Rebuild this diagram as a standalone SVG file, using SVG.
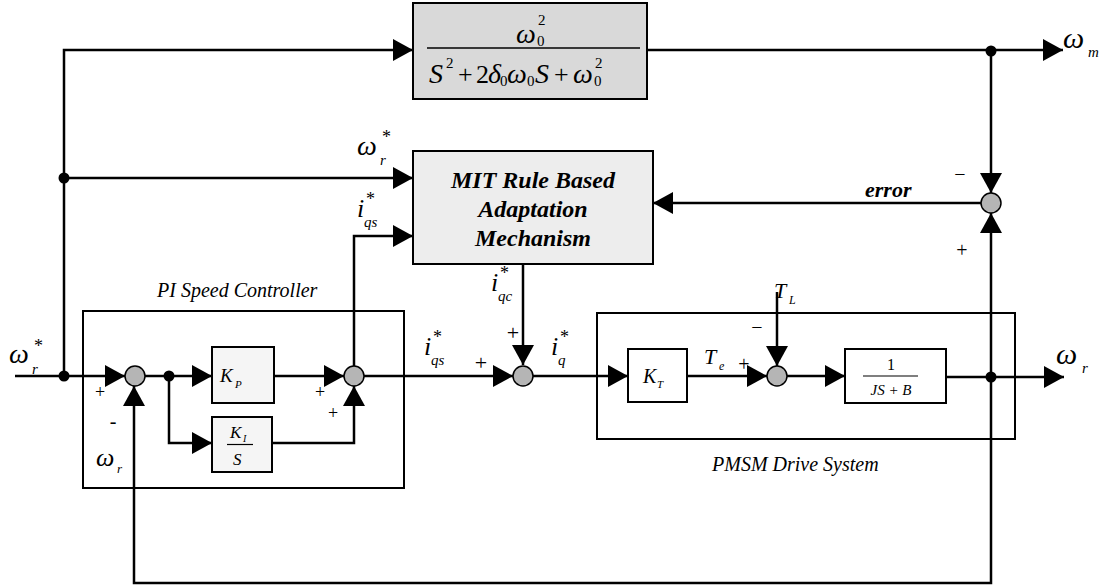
<svg xmlns="http://www.w3.org/2000/svg" width="1106" height="586" viewBox="0 0 1106 586" font-family="Liberation Serif, DejaVu Serif, Times New Roman, serif">
<defs>
<marker id="arr" markerUnits="userSpaceOnUse" markerWidth="22" markerHeight="24" refX="20" refY="11" orient="auto">
<path d="M0,0 L20,11 L0,22 z" fill="#000"/>
</marker>
<style>
.ln{fill:none;stroke:#000;stroke-width:2.5}
.ar{marker-end:url(#arr)}
.box{stroke:#000;stroke-width:2}
.frame{fill:none;stroke:#000;stroke-width:2}
.sum{fill:#b5b5b5;stroke:#000;stroke-width:1.5}
.dot{fill:#000}
.m{font-style:italic;fill:#000}
.r{fill:#000}
.b{font-style:italic;font-weight:bold;fill:#000}
</style>
</defs>
<rect width="1106" height="586" fill="#fff"/>

<g id="connectors">
<path class="ln ar" d="M15,376 H125"/>
<path class="ln ar" d="M64,376 V50 H413"/>
<path class="ln ar" d="M64,178 H413"/>
<path class="ln ar" d="M145,376 H212"/>
<path class="ln ar" d="M274,376 H344"/>
<path class="ln ar" d="M169,376 V443 H212"/>
<path class="ln ar" d="M272,443 H354 V386"/>
<path class="ln ar" d="M364,376 H513"/>
<path class="ln ar" d="M354,366 V236 H413"/>
<path class="ln ar" d="M523,264 V365"/>
<path class="ln ar" d="M533,376 H628"/>
<path class="ln ar" d="M687,376 H767"/>
<path class="ln ar" d="M777,292 V366"/>
<path class="ln ar" d="M787,376 H845"/>
<path class="ln ar" d="M946,377 H1064"/>
<path class="ln ar" d="M647,50 H1063"/>
<path class="ln ar" d="M991,50 V193"/>
<path class="ln ar" d="M981,203 H653"/>
<path class="ln ar" d="M991,377 V213"/>
<path class="ln ar" d="M991,377 V583 H134 V386"/>
</g>

<g id="pi-controller">
<rect class="frame" x="83" y="311" width="321" height="177"/>
<text class="m" x="157" y="297" font-size="20">PI Speed Controller</text>
</g>

<g id="pmsm-drive">
<rect class="frame" x="597" y="313" width="418" height="126"/>
<text class="m" x="712" y="471" font-size="20">PMSM Drive System</text>
</g>

<g id="reference-model">
<rect class="box" x="413" y="3" width="234" height="96" fill="#d9d9d9"/>
<text class="m" x="516" y="43" font-size="28">ω</text>
<text class="r" x="538" y="25" font-size="15">2</text>
<text class="r" x="537" y="46" font-size="15">0</text>
<line x1="427" y1="48" x2="640" y2="48" stroke="#000" stroke-width="1.5"/>
<text class="m" x="429" y="83" font-size="28">S</text>
<text class="r" x="446" y="68" font-size="15">2</text>
<text class="r" x="458" y="83" font-size="26">+</text>
<text class="r" x="476" y="83" font-size="26">2</text>
<text class="m" x="488" y="83" font-size="28">δ</text>
<text class="r" x="500" y="86" font-size="15">0</text>
<text class="m" x="507" y="83" font-size="28">ω</text>
<text class="r" x="527" y="86" font-size="15">0</text>
<text class="m" x="535" y="83" font-size="28">S</text>
<text class="r" x="554" y="83" font-size="26">+</text>
<text class="m" x="573" y="83" font-size="28">ω</text>
<text class="r" x="595" y="68" font-size="15">2</text>
<text class="r" x="594" y="86" font-size="15">0</text>
</g>

<g id="mit-adaptation">
<rect class="box" x="413" y="151" width="240" height="113" fill="#ededed"/>
<text class="b" x="533" y="188" font-size="24" text-anchor="middle">MIT Rule Based</text>
<text class="b" x="533" y="217" font-size="24" text-anchor="middle">Adaptation</text>
<text class="b" x="533" y="246" font-size="24" text-anchor="middle">Mechanism</text>
</g>

<g id="kp">
<rect class="box" x="212" y="347" width="62" height="56" fill="#f5f5f5"/>
<text class="m" x="220" y="382" font-size="19">K</text>
<text class="m" x="235" y="388" font-size="11">P</text>
</g>

<g id="ki">
<rect class="box" x="212" y="417" width="60" height="55" fill="#f5f5f5"/>
<text class="m" x="230" y="438" font-size="17">K</text>
<text class="m" x="243" y="442" font-size="10">I</text>
<line x1="227" y1="444.5" x2="253" y2="444.5" stroke="#000" stroke-width="1.2"/>
<text class="m" x="233" y="465" font-size="17">S</text>
</g>

<g id="kt">
<rect class="box" x="628" y="349" width="59" height="53" fill="#fff"/>
<text class="m" x="643" y="383" font-size="20">K</text>
<text class="m" x="657" y="388" font-size="11">T</text>
</g>

<g id="mech">
<rect class="box" x="845" y="349" width="101" height="54" fill="#fff"/>
<text class="r" x="891" y="370" font-size="16" text-anchor="middle">1</text>
<line x1="863" y1="376" x2="918" y2="376" stroke="#000" stroke-width="1.2"/>
<text class="m" x="891" y="395" font-size="15" text-anchor="middle">JS + B</text>
</g>

<g id="sum1"><circle class="sum" cx="135" cy="376" r="10"/></g>
<g id="sum2"><circle class="sum" cx="354" cy="376" r="10"/></g>
<g id="sum3"><circle class="sum" cx="523" cy="376" r="10"/></g>
<g id="sum4"><circle class="sum" cx="777" cy="376" r="10"/></g>
<g id="sum-error"><circle class="sum" cx="991" cy="203" r="10"/></g>

<g id="junctions">
<circle class="dot" cx="64" cy="178" r="5.5"/>
<circle class="dot" cx="64" cy="376" r="5.5"/>
<circle class="dot" cx="169" cy="376" r="5.5"/>
<circle class="dot" cx="991" cy="51" r="5.5"/>
<circle class="dot" cx="991" cy="377" r="5.5"/>
</g>

<g id="labels">
<text class="m" x="9" y="363" font-size="28">ω</text>
<text class="m" x="32" y="374" font-size="15">r</text>
<text class="r" x="34" y="352" font-size="18">*</text>

<text class="m" x="357" y="155" font-size="28">ω</text>
<text class="m" x="380" y="165" font-size="15">r</text>
<text class="r" x="382" y="143" font-size="18">*</text>

<text class="m" x="357" y="217" font-size="26">i</text>
<text class="m" x="364" y="227" font-size="15">qs</text>
<text class="r" x="366" y="205" font-size="18">*</text>

<text class="m" x="424" y="355" font-size="26">i</text>
<text class="m" x="431" y="365" font-size="15">qs</text>
<text class="r" x="433" y="343" font-size="18">*</text>

<text class="m" x="491" y="291" font-size="26">i</text>
<text class="m" x="498" y="301" font-size="15">qc</text>
<text class="r" x="500" y="279" font-size="18">*</text>

<text class="m" x="551" y="355" font-size="26">i</text>
<text class="m" x="558" y="365" font-size="15">q</text>
<text class="r" x="560" y="343" font-size="18">*</text>

<text class="m" x="704" y="364" font-size="22">T</text>
<text class="m" x="719" y="370" font-size="12">e</text>

<text class="m" x="774" y="298" font-size="22">T</text>
<text class="m" x="789" y="304" font-size="12">L</text>

<text class="m" x="1056" y="364" font-size="30">ω</text>
<text class="m" x="1082" y="373" font-size="15">r</text>

<text class="m" x="1063" y="48" font-size="30">ω</text>
<text class="m" x="1088" y="57" font-size="15">m</text>

<text class="m" x="96" y="466" font-size="26">ω</text>
<text class="m" x="117" y="473" font-size="13">r</text>

<text class="b" x="865" y="197" font-size="22">error</text>

<text class="r" x="100" y="398" font-size="18" text-anchor="middle">+</text>
<text class="r" x="113" y="428" font-size="20" text-anchor="middle">-</text>
<text class="r" x="320" y="398" font-size="18" text-anchor="middle">+</text>
<text class="r" x="333" y="419" font-size="18" text-anchor="middle">+</text>
<text class="r" x="481" y="370" font-size="22" text-anchor="middle">+</text>
<text class="r" x="513" y="340" font-size="22" text-anchor="middle">+</text>
<text class="r" x="744" y="371" font-size="20" text-anchor="middle">+</text>
<text class="r" x="757" y="334" font-size="20" text-anchor="middle">−</text>
<text class="r" x="960" y="181" font-size="20" text-anchor="middle">−</text>
<text class="r" x="962" y="257" font-size="20" text-anchor="middle">+</text>
</g>
</svg>
